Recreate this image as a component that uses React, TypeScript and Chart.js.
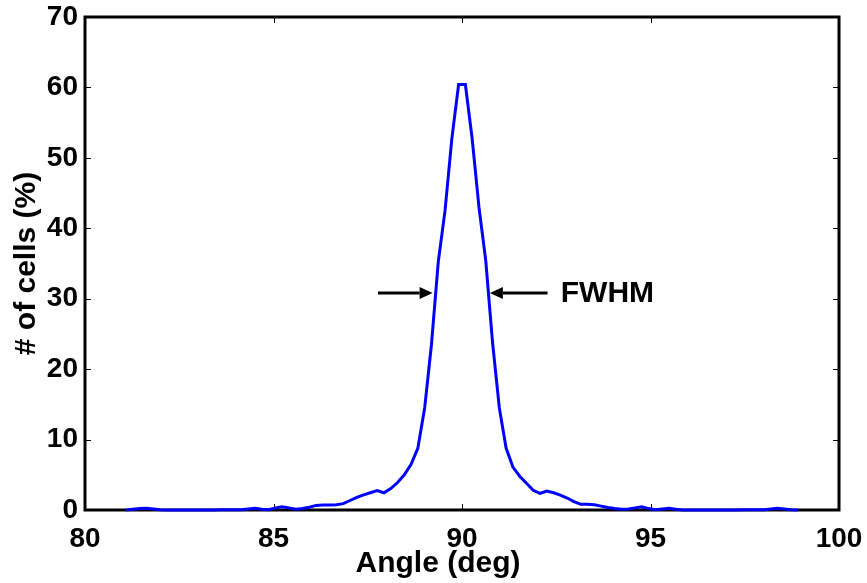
import React, { useEffect, useRef } from "react";
import { Chart, registerables } from "chart.js";

Chart.register(...registerables);

const angles = [
  81.09, 81.27, 81.45, 81.63, 81.81, 81.99, 82.17, 82.35, 82.53, 82.71,
  82.89, 83.07, 83.25, 83.43, 83.61, 83.79, 83.97, 84.15, 84.33, 84.51,
  84.69, 84.87, 85.05, 85.23, 85.41, 85.59, 85.77, 85.95, 86.13, 86.31,
  86.49, 86.67, 86.85, 87.03, 87.21, 87.39, 87.57, 87.75, 87.93, 88.11,
  88.29, 88.47, 88.65, 88.83, 89.01, 89.19, 89.37, 89.55, 89.73, 89.91,
  90.09, 90.27, 90.45, 90.63, 90.81, 90.99, 91.17, 91.35, 91.53, 91.71,
  91.89, 92.07, 92.25, 92.43, 92.61, 92.79, 92.97, 93.15, 93.33, 93.51,
  93.69, 93.87, 94.05, 94.23, 94.41, 94.59, 94.77, 94.95, 95.13, 95.31,
  95.49, 95.67, 95.85, 96.03, 96.21, 96.39, 96.57, 96.75, 96.93, 97.11,
  97.29, 97.47, 97.65, 97.83, 98.01, 98.19, 98.37, 98.55, 98.73, 98.91,
];

const cellsPct = [
  0, 0.1, 0.2, 0.25, 0.15, 0.05, 0, 0, 0, 0,
  0, 0, 0, 0, 0.02, 0.02, 0.05, 0.05, 0.15, 0.25,
  0.1, 0.05, 0.3, 0.45, 0.3, 0.1, 0.2, 0.4, 0.65, 0.7,
  0.7, 0.75, 0.9, 1.35, 1.8, 2.15, 2.45, 2.75, 2.45, 3.05,
  3.9, 5.0, 6.5, 8.8, 14.5, 23.5, 35.2, 42.5, 52.7, 60.4,
  60.4, 52.7, 43.0, 35.4, 23.8, 14.5, 8.8, 6.1, 4.8, 3.8,
  2.8, 2.35, 2.7, 2.45, 2.1, 1.7, 1.2, 0.8, 0.8, 0.75,
  0.55, 0.35, 0.2, 0.1, 0.15, 0.3, 0.45, 0.2, 0.05, 0.15,
  0.25, 0.1, 0, 0, 0, 0, 0, 0, 0, 0,
  0, 0.02, 0.02, 0.05, 0.05, 0.15, 0.25, 0.15, 0.05, 0,
];

const xTicks = [80, 85, 90, 95, 100];
const yTicks = [0, 10, 20, 30, 40, 50, 60, 70];

const xTitle = "Angle (deg)";

// FWHM annotation (data units)
const fwhmLevel = 30.8;
const leftArrow = { from: 87.77, to: 89.22 };
const rightArrow = { from: 92.27, to: 90.74 };
const fwhmLabel = { x: 92.62, text: "FWHM" };

const FONT = '"Liberation Sans", Arial, Helvetica, sans-serif';

const framePlugin = {
  id: "matlabFrame",
  beforeDatasetsDraw(chart: any) {
    const { ctx, chartArea: a, scales } = chart;
    ctx.save();
    ctx.strokeStyle = "#000";
    ctx.lineWidth = 1;
    const tl = 6;
    xTicks.forEach((t) => {
      const x = Math.round(scales.x.getPixelForValue(t)) + 0.5;
      ctx.beginPath();
      ctx.moveTo(x, a.bottom);
      ctx.lineTo(x, a.bottom - tl);
      ctx.moveTo(x, a.top);
      ctx.lineTo(x, a.top + tl);
      ctx.stroke();
    });
    yTicks.forEach((t) => {
      const y = Math.round(scales.y.getPixelForValue(t)) + 0.5;
      ctx.beginPath();
      ctx.moveTo(a.left, y);
      ctx.lineTo(a.left + tl, y);
      ctx.moveTo(a.right, y);
      ctx.lineTo(a.right - tl, y);
      ctx.stroke();
    });
    ctx.lineWidth = 3;
    ctx.strokeRect(a.left, a.top, a.right - a.left, a.bottom - a.top);
    ctx.restore();
  },
  afterDatasetsDraw(chart: any) {
    const { ctx, scales, chartArea: a } = chart;
    const y = scales.y.getPixelForValue(fwhmLevel);
    const drawArrow = (fromV: number, toV: number) => {
      const x0 = scales.x.getPixelForValue(fromV);
      const x1 = scales.x.getPixelForValue(toV);
      const dir = Math.sign(x1 - x0);
      const headLen = 13;
      const headHalf = 6;
      ctx.beginPath();
      ctx.moveTo(x0, y);
      ctx.lineTo(x1 - dir * headLen, y);
      ctx.lineWidth = 3;
      ctx.strokeStyle = "#000";
      ctx.stroke();
      ctx.beginPath();
      ctx.moveTo(x1, y);
      ctx.lineTo(x1 - dir * headLen, y - headHalf);
      ctx.lineTo(x1 - dir * headLen, y + headHalf);
      ctx.closePath();
      ctx.fillStyle = "#000";
      ctx.fill();
    };
    ctx.save();
    drawArrow(leftArrow.from, leftArrow.to);
    drawArrow(rightArrow.from, rightArrow.to);
    ctx.fillStyle = "#000";
    ctx.font = `bold 30px ${FONT}`;
    ctx.textAlign = "left";
    ctx.textBaseline = "middle";
    ctx.fillText(fwhmLabel.text, scales.x.getPixelForValue(fwhmLabel.x), y + 1);
    // x axis title (offset left of centre, as in the original figure)
    ctx.textAlign = "center";
    ctx.fillText(xTitle, (a.left + a.right) / 2 - 24, 564);
    ctx.restore();
  },
};

export default function App() {
  const ref = useRef<HTMLCanvasElement>(null);

  useEffect(() => {
    if (!ref.current) return;
    const chart = new Chart(ref.current, {
      type: "line",
      data: {
        datasets: [
          {
            data: angles.map((a, i) => ({ x: a, y: cellsPct[i] })),
            borderColor: "#0000ff",
            borderWidth: 3,
            pointRadius: 0,
            tension: 0,
            fill: false,
            clip: false as any,
          },
        ],
      },
      options: {
        animation: false,
        responsive: false,
        maintainAspectRatio: false,
        layout: { padding: { left: 0, top: 17, right: 28, bottom: 0 } },
        plugins: {
          legend: { display: false },
          tooltip: { enabled: false },
        },
        scales: {
          x: {
            type: "linear",
            min: 80,
            max: 100,
            afterBuildTicks: (s: any) => {
              s.ticks = xTicks.map((v) => ({ value: v }));
            },
            afterFit: (s: any) => {
              s.height = 73;
              s.paddingLeft = 0;
              s.paddingRight = 0;
            },
            grid: { display: false, drawTicks: false },
            border: { display: false },
            ticks: {
              color: "#000",
              padding: 12,
              maxRotation: 0,
              autoSkip: false,
              font: { family: FONT, size: 28, weight: "bold" },
            },
            title: { display: false },
          },
          y: {
            type: "linear",
            min: 0,
            max: 70,
            afterBuildTicks: (s: any) => {
              s.ticks = yTicks.map((v) => ({ value: v }));
            },
            afterFit: (s: any) => {
              s.width = 85;
              s.paddingTop = 0;
              s.paddingBottom = 0;
            },
            grid: { display: false, drawTicks: false },
            border: { display: false },
            ticks: {
              color: "#000",
              padding: 7,
              autoSkip: false,
              font: { family: FONT, size: 28, weight: "bold" },
            },
            title: {
              display: true,
              text: "# of cells (%)",
              color: "#000",
              font: { family: FONT, size: 30, weight: "bold", lineHeight: 1.2 },
              padding: { top: 9, bottom: 0 },
            },
          },
        },
      },
      plugins: [framePlugin],
    });
    return () => chart.destroy();
  }, []);

  return (
    <div style={{ position: "fixed", left: 0, top: 0, width: 867, height: 583, background: "#fff" }}>
      <canvas ref={ref} width={867} height={583} style={{ display: "block", width: 867, height: 583 }} />
    </div>
  );
}
